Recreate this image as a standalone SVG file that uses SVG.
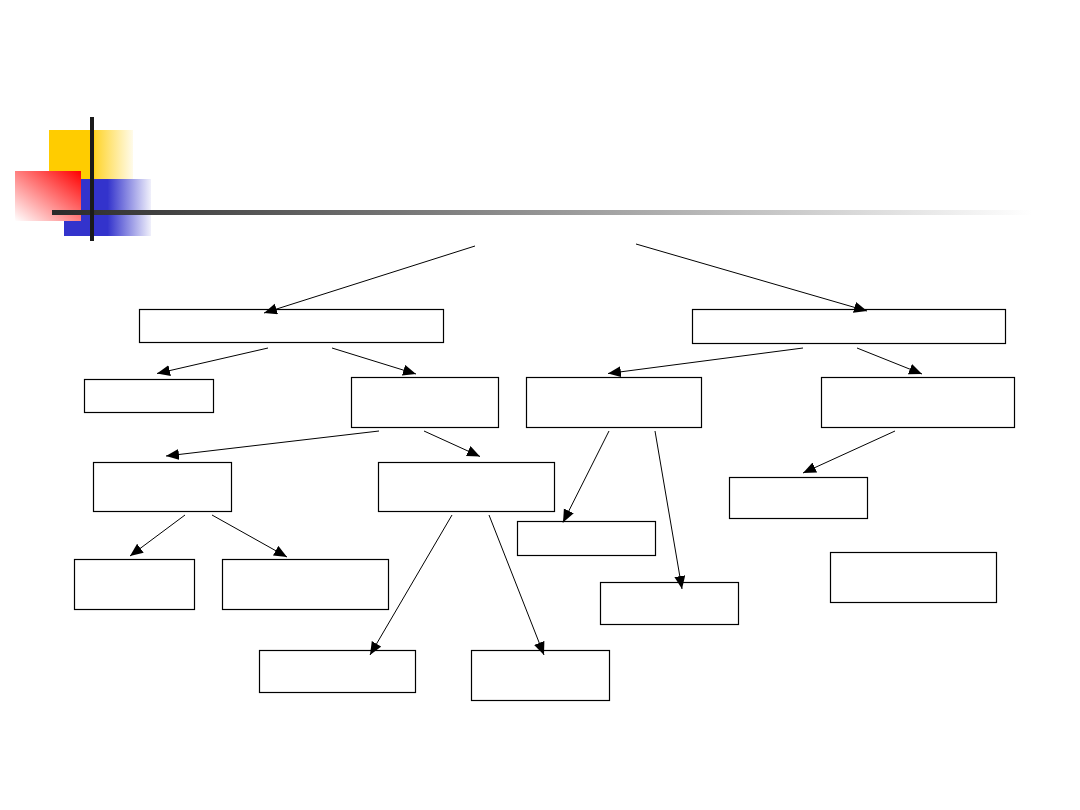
<svg xmlns="http://www.w3.org/2000/svg" width="1080" height="810" viewBox="0 0 1080 810">
<style>
.box{fill:#fff;stroke:#000;stroke-width:1.2}
.conn line{stroke:#000;stroke-width:1;marker-end:url(#ah)}
</style>
<defs>
<marker id="ah" markerUnits="userSpaceOnUse" markerWidth="14" markerHeight="12" refX="13" refY="5.5" orient="auto">
<path d="M0,0 L13,5.5 L0,11 z" fill="#000"/>
</marker>
<linearGradient id="gy" x1="0" y1="0" x2="1" y2="0">
<stop offset="0" stop-color="#FFCC00"/><stop offset="0.52" stop-color="#FFCC00"/><stop offset="0.56" stop-color="#FFD633"/><stop offset="1" stop-color="#FFFBEA"/>
</linearGradient>
<linearGradient id="gb" x1="0" y1="0" x2="1" y2="0">
<stop offset="0" stop-color="#3333CC"/><stop offset="0.5" stop-color="#3333CC"/><stop offset="1" stop-color="#F0F0FB"/>
</linearGradient>
<linearGradient id="gr" x1="1" y1="0" x2="0" y2="1">
<stop offset="0" stop-color="#FF0000"/><stop offset="1" stop-color="#FFFFFF"/>
</linearGradient>
<linearGradient id="gl" x1="0" y1="0" x2="1" y2="0">
<stop offset="0" stop-color="#2A2A2A"/><stop offset="1" stop-color="#FFFFFF"/>
</linearGradient>
</defs>
<rect width="1080" height="810" fill="#fff"/>
<g id="decor">
<rect x="49" y="130" width="84" height="49" fill="url(#gy)"/>
<rect x="64" y="179" width="87" height="57" fill="url(#gb)"/>
<rect x="15" y="171" width="66" height="50" fill="url(#gr)"/>
<rect x="52" y="210" width="980" height="5" fill="url(#gl)"/>
<rect x="90" y="117" width="4" height="124" fill="#1a1a1a"/>
</g>
<g id="nA"><rect class="box" x="139.5" y="309.5" width="304" height="33"/></g>
<g id="nD"><rect class="box" x="692.5" y="309.5" width="313" height="34"/></g>
<g id="nB"><rect class="box" x="84.5" y="379.5" width="129" height="33"/></g>
<g id="nC"><rect class="box" x="351.5" y="377.5" width="147" height="50"/></g>
<g id="nE"><rect class="box" x="526.5" y="377.5" width="175" height="50"/></g>
<g id="nF"><rect class="box" x="821.5" y="377.5" width="193" height="50"/></g>
<g id="nG"><rect class="box" x="93.5" y="462.5" width="138" height="49"/></g>
<g id="nH"><rect class="box" x="378.5" y="462.5" width="176" height="49"/></g>
<g id="nO"><rect class="box" x="729.5" y="477.5" width="138" height="41"/></g>
<g id="nM"><rect class="box" x="517.5" y="521.5" width="138" height="34"/></g>
<g id="nP"><rect class="box" x="830.5" y="552.5" width="166" height="50"/></g>
<g id="nI"><rect class="box" x="74.5" y="559.5" width="120" height="50"/></g>
<g id="nJ"><rect class="box" x="222.5" y="559.5" width="166" height="50"/></g>
<g id="nN"><rect class="box" x="600.5" y="582.5" width="138" height="42"/></g>
<g id="nK"><rect class="box" x="259.5" y="650.5" width="156" height="42"/></g>
<g id="nL"><rect class="box" x="471.5" y="650.5" width="138" height="50"/></g>
<g id="connectors" class="conn">
<line x1="475" y1="246" x2="264" y2="313"/>
<line x1="636" y1="244" x2="867" y2="311"/>
<line x1="268" y1="348" x2="157" y2="373.5"/>
<line x1="332" y1="348" x2="416" y2="374"/>
<line x1="803" y1="348" x2="608" y2="373.5"/>
<line x1="857" y1="348" x2="922" y2="374"/>
<line x1="379" y1="431" x2="166" y2="456"/>
<line x1="424" y1="431" x2="480" y2="456.5"/>
<line x1="185" y1="515" x2="130" y2="556"/>
<line x1="212" y1="515" x2="287" y2="557"/>
<line x1="452" y1="515" x2="370" y2="655"/>
<line x1="489" y1="515" x2="544" y2="655"/>
<line x1="609" y1="431" x2="563" y2="522.5"/>
<line x1="655" y1="431" x2="682" y2="589"/>
<line x1="895" y1="431" x2="803" y2="473"/>
</g>
</svg>
